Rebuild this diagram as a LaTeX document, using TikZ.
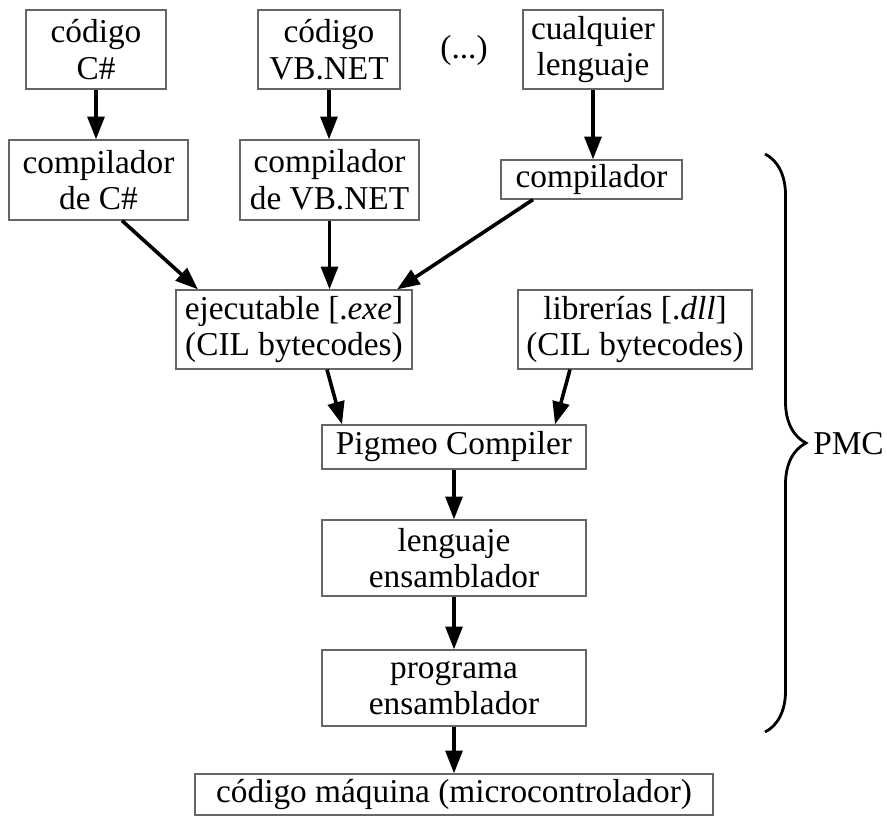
\documentclass[tikz,border=0pt]{standalone}
\usepackage{fontspec}
\setmainfont{Liberation Serif}
\usetikzlibrary{arrows.meta,calc,decorations.pathreplacing}
\begin{document}
\begin{tikzpicture}[x=0.75pt,y=-0.75pt,
  box/.style={draw=black!60, line width=0.9pt, rectangle, align=center, inner sep=0pt,
    font=\fontsize{25}{27.5}\selectfont},
  flow/.style={line width=2.7pt, -{Triangle[length=17pt,width=12.5pt]}},
  lbl/.style={font=\fontsize{25}{27.5}\selectfont, inner sep=0pt},
  bracestyle/.style={line width=2.1pt, decorate, decoration={brace, amplitude=30.75pt}}]
\useasboundingbox (0,0) rectangle (887,816);
% top row
\node[box, minimum width=105pt, minimum height=59.25pt] (cs) at (96,49.5) {código\\C\#};
\node[box, minimum width=106.5pt, minimum height=59.25pt] (vb) at (329,49.5) {código\\VB.NET};
\node[lbl] (dots) at (464,50) {(...)};
\node[box, minimum width=105pt, minimum height=59.25pt] (cual) at (593,49.5) {cualquier\\lenguaje};
% compilers
\node[box, minimum width=134.25pt, minimum height=60pt] (ccs) at (98.5,180) {compilador\\de C\#};
\node[box, minimum width=134.25pt, minimum height=60pt] (cvb) at (329.5,180) {compilador\\de VB.NET};
\node[box, minimum width=135.75pt, minimum height=29.25pt] (comp) at (591.5,179.5) {compilador};
% bytecode
\node[box, minimum width=177pt, minimum height=59.25pt] (exe) at (294,329.5) {ejecutable [.\textit{exe}]\\(CIL bytecodes)};
\node[box, minimum width=175.5pt, minimum height=59.25pt] (dll) at (635,329.5) {librerías [.\textit{dll}]\\(CIL bytecodes)};
% pipeline
\node[box, minimum width=198pt, minimum height=33pt] (pig) at (454,447) {Pigmeo Compiler};
\node[box, minimum width=198pt, minimum height=57pt] (len) at (454,558) {lenguaje\\ensamblador};
\node[box, minimum width=198pt, minimum height=57pt] (prog) at (454,688) {programa\\ensamblador};
\node[box, minimum width=388.5pt, minimum height=30.75pt] (maq) at (454,794.5) {código máquina (microcontrolador)};
% connectors
\draw[flow] (cs.south) -- (cs.south |- ccs.north);
\draw[flow] (vb.south) -- (vb.south |- cvb.north);
\draw[flow] (cual.south) -- (cual.south |- comp.north);
\draw[flow] ($(ccs.south)+(23.5,0)$) -- ($(exe.north)+(-96,0)$);
\draw[flow] (cvb.south) -- (cvb.south |- exe.north);
\draw[flow] ($(comp.south)+(-58.5,0)$) -- ($(exe.north)+(103,0)$);
\draw[flow] ($(exe.south)+(33,0)$) -- ($(pig.north)+(-112,0)$);
\draw[flow] ($(dll.south)+(-65,0)$) -- ($(pig.north)+(101,0)$);
\draw[flow] (pig.south) -- (len.north);
\draw[flow] (len.south) -- (prog.north);
\draw[flow] (prog.south) -- (maq.north);
% brace
\coordinate (btop) at (765,154);
\coordinate (bbot) at (765,732);
\draw[bracestyle] (btop) -- (bbot);
\node[lbl, anchor=west] (pmc) at (813,444) {PMC};
\end{tikzpicture}
\end{document}
